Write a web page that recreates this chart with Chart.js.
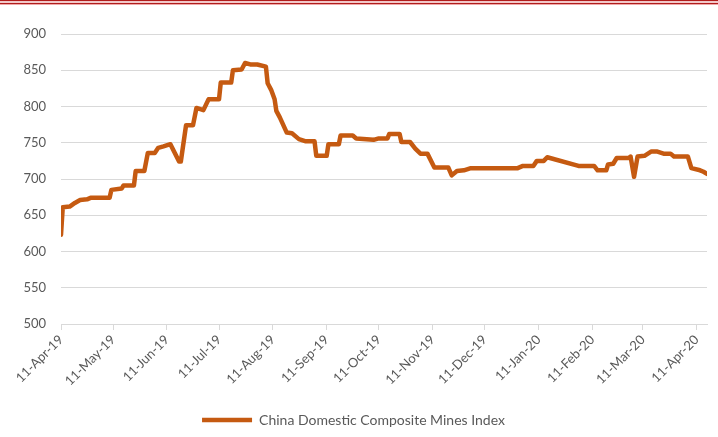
<!DOCTYPE html>
<html>
<head>
<meta charset="utf-8">
<script src="https://cdn.jsdelivr.net/npm/chart.js@4.4.0/dist/chart.umd.min.js"></script>
<style>
  body { margin: 0; background: #fff; }
  #topbar { position: absolute; left: 0; top: 0; width: 718px; height: 5px;
    background: linear-gradient(#b01c1c 0, #b01c1c 1px, #f2c9c9 1px, #f2c9c9 3px, #b01c1c 3px, #b01c1c 4px, #f0a8a8 4px, #f0a8a8 5px); }
  #wrap { position: absolute; left: 0; top: 0; width: 718px; height: 437px; }
</style>
</head>
<body>
<div id="wrap"><canvas id="myChart" width="718" height="437"></canvas></div>
<div id="topbar"></div>
<script>
// China Domestic Composite Mines Index
var dates = [
  "2019-04-11","2019-04-12","2019-04-16","2019-04-19","2019-04-22","2019-04-26","2019-04-28","2019-05-09",
  "2019-05-10","2019-05-16","2019-05-17","2019-05-23","2019-05-24","2019-05-29","2019-05-31","2019-06-04",
  "2019-06-06","2019-06-09","2019-06-13","2019-06-18","2019-06-19","2019-06-22","2019-06-26","2019-06-28",
  "2019-07-02","2019-07-05","2019-07-11","2019-07-12","2019-07-18","2019-07-19","2019-07-24","2019-07-26",
  "2019-07-29","2019-08-02","2019-08-07","2019-08-08","2019-08-10","2019-08-12","2019-08-13","2019-08-15",
  "2019-08-19","2019-08-22","2019-08-26","2019-08-30","2019-09-04","2019-09-05","2019-09-11","2019-09-12",
  "2019-09-18","2019-09-19","2019-09-26","2019-09-28","2019-10-08","2019-10-11","2019-10-16","2019-10-17",
  "2019-10-23","2019-10-24","2019-10-29","2019-11-01","2019-11-04","2019-11-08","2019-11-12","2019-11-20",
  "2019-11-22","2019-11-25","2019-11-29","2019-12-03","2019-12-30","2020-01-02","2020-01-08","2020-01-10",
  "2020-01-14","2020-01-16","2020-02-03","2020-02-12","2020-02-14","2020-02-19","2020-02-20","2020-02-23",
  "2020-02-25","2020-03-03","2020-03-04","2020-03-06","2020-03-08","2020-03-12","2020-03-16","2020-03-19",
  "2020-03-23","2020-03-27","2020-03-29","2020-04-06","2020-04-08","2020-04-13","2020-04-15","2020-04-17"
];
var values = [
  623, 661, 662, 667, 671, 672, 674, 674,
  685, 687, 691, 691, 711, 711, 736, 736,
  743, 745, 748, 724, 724, 774, 774, 798,
  795, 810, 810, 833, 833, 850, 851, 860,
  858, 858, 855, 832, 823, 810, 794, 785,
  764, 763, 755, 752, 752, 732, 732, 748,
  748, 760, 760, 756, 754, 756, 756, 762,
  762, 751, 751, 742, 735, 735, 716, 716,
  705, 711, 712, 715, 715, 718, 718, 725,
  725, 730, 718, 718, 712, 712, 720, 721,
  729, 729, 731, 703, 731, 732, 738, 738,
  735, 735, 731, 731, 715, 712, 710, 707
];
var tickLabels = ["11-Apr-19","11-May-19","11-Jun-19","11-Jul-19","11-Aug-19","11-Sep-19","11-Oct-19",
  "11-Nov-19","11-Dec-19","11-Jan-20","11-Feb-20","11-Mar-20","11-Apr-20"];
var seriesName = "China Domestic Composite Mines Index";

var months = ["Jan","Feb","Mar","Apr","May","Jun","Jul","Aug","Sep","Oct","Nov","Dec"];
var start = Date.UTC(2019, 3, 11);
function dayOf(s) {
  var p = s.split("-");
  return (Date.UTC(+p[0], +p[1] - 1, +p[2]) - start) / 86400000;
}
function dayOfLabel(s) {
  var p = s.split("-");
  return (Date.UTC(2000 + (+p[2]), months.indexOf(p[1]), +p[0]) - start) / 86400000;
}

var points = dates.map(function (d, i) { return { x: dayOf(d), y: values[i] }; });
var tickDays = tickLabels.map(dayOfLabel);
var grey = "#595959";

new Chart("myChart", {
  type: "line",
  data: {
    datasets: [{
      label: seriesName,
      data: points,
      borderColor: "#C55A11",
      backgroundColor: "#C55A11",
      borderWidth: 4.5,
      pointRadius: 0,
      tension: 0,
      borderJoinStyle: "round",
      borderCapStyle: "round"
    }]
  },
  options: {
    responsive: false,
    animation: false,
    layout: { padding: { top: 34, right: 11, left: 0, bottom: 0 } },
    plugins: {
      tooltip: { enabled: false },
      legend: {
        position: "bottom",
        labels: {
          color: grey,
          font: { family: "Lato", size: 14 },
          usePointStyle: true,
          pointStyle: "line",
          pointStyleWidth: 50,
          boxHeight: 5,
          padding: 3
        }
      }
    },
    scales: {
      x: {
        type: "linear",
        min: 0,
        max: dayOf(dates[dates.length - 1]),
        afterBuildTicks: function (scale) {
          scale.ticks = tickDays.map(function (v) { return { value: v }; });
        },
        afterFit: function (scale) { scale.height = 86; },
        ticks: {
          autoSkip: false,
          maxRotation: 45,
          minRotation: 45,
          color: grey,
          font: { family: "Lato", size: 13 },
          padding: 2,
          callback: function (v) {
            var i = tickDays.indexOf(v);
            return i >= 0 ? tickLabels[i] : "";
          }
        },
        grid: { drawOnChartArea: false, drawTicks: true, tickLength: 6, color: "#d9d9d9" },
        border: { color: "#d9d9d9", width: 1 }
      },
      y: {
        min: 500,
        max: 900,
        afterFit: function (scale) { scale.width = 61; },
        ticks: {
          stepSize: 50,
          color: grey,
          font: { family: "Lato", size: 13 },
          padding: 15
        },
        grid: { color: "#d9d9d9", drawTicks: false },
        border: { display: false }
      }
    }
  }
});
</script>
</body>
</html>
